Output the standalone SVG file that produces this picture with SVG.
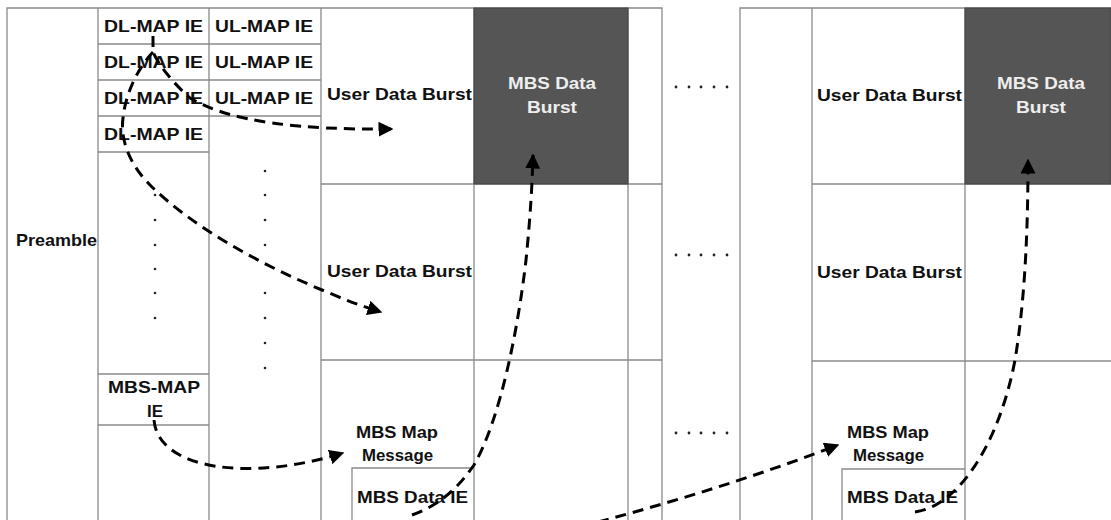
<svg xmlns="http://www.w3.org/2000/svg" width="1111" height="520" viewBox="0 0 1111 520">
<defs>
<style>
.ln{stroke:#8a8a8a;stroke-width:1.3;fill:none}
.t{font-family:"Liberation Sans",Arial,sans-serif;font-size:17px;font-weight:bold;fill:#111}
.w{font-family:"Liberation Sans",Arial,sans-serif;font-size:17px;font-weight:bold;fill:#eee}
.dk{fill:#555;stroke:#444;stroke-width:1}
.dot{fill:#222}
.c{stroke:#000;stroke-width:3;fill:none;stroke-dasharray:11 7}
</style>
<marker id="ah" viewBox="0 0 10 10" refX="9" refY="5" markerWidth="5" markerHeight="5" orient="auto">
<path d="M0,0 L10,5 L0,10 z" fill="#000"/>
</marker>
</defs>
<rect width="1111" height="520" fill="#fff"/>

<g id="frame1">
<path class="ln" d="M7,520 V8 H662 V520 M98,8 V520 M209,8 V520 M321,8 V520 M474,8 V520 M628,8 V520"/>
<path class="ln" d="M98,44 H321 M98,80 H321 M98,116 H321 M98,152 H209 M98,374 H209 M98,425 H209"/>
<path class="ln" d="M321,184 H662 M321,360 H662 M352,520 V468 H474"/>
</g>
<g id="frame2">
<path class="ln" d="M740,520 V8 H1111 M812,8 V520 M965,8 V520"/>
<path class="ln" d="M812,184 H1111 M812,361 H1111 M842,520 V469 H965"/>
</g>

<g id="preamble"><text class="t" x="16" y="246" textLength="81" lengthAdjust="spacingAndGlyphs">Preamble</text></g>
<g id="dlmap">
<text class="t" x="104" y="32" textLength="99" lengthAdjust="spacingAndGlyphs">DL-MAP IE</text>
<text class="t" x="104" y="68" textLength="99" lengthAdjust="spacingAndGlyphs">DL-MAP IE</text>
<text class="t" x="104" y="104" textLength="99" lengthAdjust="spacingAndGlyphs">DL-MAP IE</text>
<text class="t" x="104" y="140" textLength="99" lengthAdjust="spacingAndGlyphs">DL-MAP IE</text>
</g>
<g id="ulmap">
<text class="t" x="215" y="32" textLength="98" lengthAdjust="spacingAndGlyphs">UL-MAP IE</text>
<text class="t" x="215" y="68" textLength="98" lengthAdjust="spacingAndGlyphs">UL-MAP IE</text>
<text class="t" x="215" y="104" textLength="98" lengthAdjust="spacingAndGlyphs">UL-MAP IE</text>
</g>
<g id="dots">
<circle class="dot" cx="155" cy="195" r="1.3"/><circle class="dot" cx="155" cy="220" r="1.3"/><circle class="dot" cx="155" cy="245" r="1.3"/><circle class="dot" cx="155" cy="269" r="1.3"/><circle class="dot" cx="155" cy="293" r="1.3"/><circle class="dot" cx="155" cy="318" r="1.3"/>
<circle class="dot" cx="265" cy="171" r="1.3"/><circle class="dot" cx="265" cy="195" r="1.3"/><circle class="dot" cx="265" cy="220" r="1.3"/><circle class="dot" cx="265" cy="245" r="1.3"/><circle class="dot" cx="265" cy="293" r="1.3"/><circle class="dot" cx="265" cy="318" r="1.3"/><circle class="dot" cx="265" cy="343" r="1.3"/><circle class="dot" cx="265" cy="368" r="1.3"/>
<g id="ellipses">
<circle class="dot" cx="676" cy="87" r="1.4"/><circle class="dot" cx="689" cy="87" r="1.4"/><circle class="dot" cx="701" cy="87" r="1.4"/><circle class="dot" cx="714" cy="87" r="1.4"/><circle class="dot" cx="727" cy="87" r="1.4"/>
<circle class="dot" cx="676" cy="255" r="1.4"/><circle class="dot" cx="689" cy="255" r="1.4"/><circle class="dot" cx="701" cy="255" r="1.4"/><circle class="dot" cx="714" cy="255" r="1.4"/><circle class="dot" cx="727" cy="255" r="1.4"/>
<circle class="dot" cx="676" cy="433" r="1.4"/><circle class="dot" cx="689" cy="433" r="1.4"/><circle class="dot" cx="701" cy="433" r="1.4"/><circle class="dot" cx="714" cy="433" r="1.4"/><circle class="dot" cx="727" cy="433" r="1.4"/>
</g>
</g>
<g id="mbsmapie"><text class="t" x="108" y="393" textLength="92" lengthAdjust="spacingAndGlyphs">MBS-MAP</text><text class="t" x="147" y="417" textLength="16" lengthAdjust="spacingAndGlyphs">IE</text></g>

<g id="udb1"><text class="t" x="327" y="100" textLength="145" lengthAdjust="spacingAndGlyphs">User Data Burst</text></g>
<g id="udb2"><text class="t" x="327" y="277" textLength="145" lengthAdjust="spacingAndGlyphs">User Data Burst</text></g>
<g id="mbsburst1"><rect class="dk" x="474" y="8" width="154" height="176"/><text class="w" x="508" y="89" textLength="88" lengthAdjust="spacingAndGlyphs">MBS Data</text><text class="w" x="527" y="113" textLength="50" lengthAdjust="spacingAndGlyphs">Burst</text></g>
<g id="mapmsg1"><text class="t" x="356" y="438" textLength="82" lengthAdjust="spacingAndGlyphs">MBS Map</text><text class="t" x="362" y="461" textLength="71" lengthAdjust="spacingAndGlyphs">Message</text></g>
<g id="dataie1"><text class="t" x="357" y="503" textLength="111" lengthAdjust="spacingAndGlyphs">MBS Data IE</text></g>

<g id="udb3"><text class="t" x="817" y="101" textLength="145" lengthAdjust="spacingAndGlyphs">User Data Burst</text></g>
<g id="udb4"><text class="t" x="817" y="278" textLength="145" lengthAdjust="spacingAndGlyphs">User Data Burst</text></g>
<g id="mbsburst2"><rect class="dk" x="965" y="8" width="146" height="176"/><text class="w" x="997" y="89" textLength="88" lengthAdjust="spacingAndGlyphs">MBS Data</text><text class="w" x="1016" y="113" textLength="50" lengthAdjust="spacingAndGlyphs">Burst</text></g>
<g id="mapmsg2"><text class="t" x="847" y="438" textLength="82" lengthAdjust="spacingAndGlyphs">MBS Map</text><text class="t" x="853" y="461" textLength="71" lengthAdjust="spacingAndGlyphs">Message</text></g>
<g id="dataie2"><text class="t" x="847" y="503" textLength="111" lengthAdjust="spacingAndGlyphs">MBS Data IE</text></g>

<g id="connectors">
<path class="c" d="M153,36 L153,52 C158,64 172,82 190,98 C230,122 300,130 392,129" marker-end="url(#ah)"/>
<path class="c" d="M153,52 C140,66 126,90 123,118 C120,140 130,165 150,185 C190,225 260,265 327,292 C345,300 362,306 381,312" marker-end="url(#ah)"/>
<path class="c" d="M154,420 C158,470 250,482 343,453" marker-end="url(#ah)"/>
<path class="c" d="M412,515 C440,505 458,488 474,465 C500,420 518,330 526,260 C530,220 532,190 533,155" marker-end="url(#ah)"/>
<path class="c" d="M598,522 C680,500 760,475 838,445" marker-end="url(#ah)"/>
<path class="c" d="M915,512 C960,506 1000,440 1015,360 C1025,300 1028,230 1028,160" marker-end="url(#ah)"/>
</g>
</svg>
